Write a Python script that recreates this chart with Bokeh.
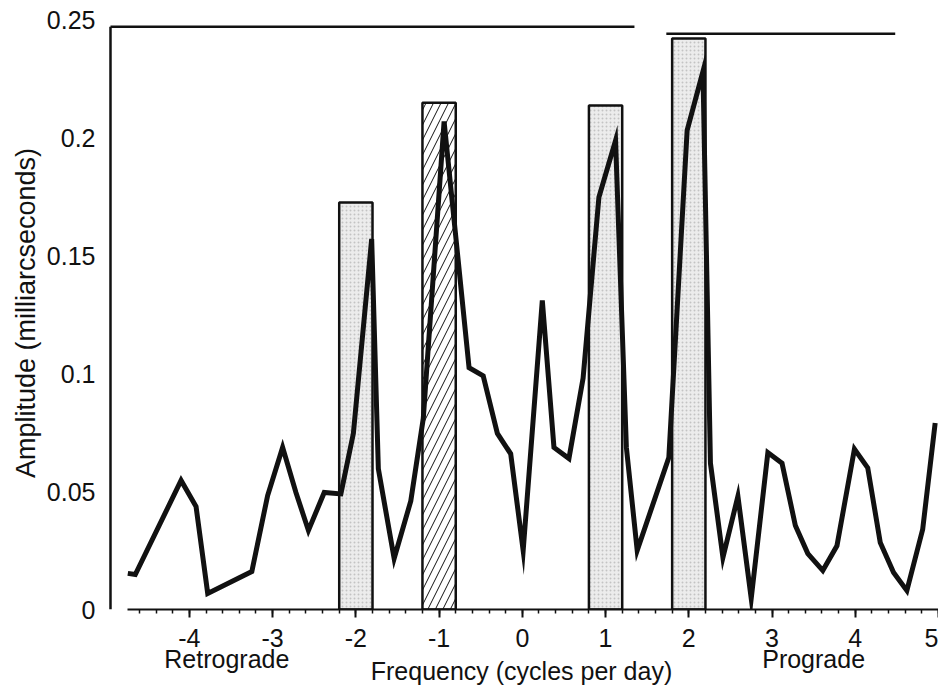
from bokeh.plotting import figure
from bokeh.models import Range1d, FixedTicker, SingleIntervalTicker, LinearAxis
from bokeh.embed import file_html
from bokeh.resources import INLINE

# ---- data ----
freq = [-4.74, -4.65, -4.10, -3.92, -3.78, -3.25, -3.06, -2.88, -2.72, -2.57,
        -2.38, -2.18, -2.03, -1.81, -1.73, -1.54, -1.34, -1.19, -0.94, -0.64,
        -0.47, -0.30, -0.14, 0.01, 0.24, 0.38, 0.56, 0.73, 0.92, 1.12,
        1.25, 1.38, 1.76, 1.98, 2.17, 2.26, 2.41, 2.59, 2.75, 2.95,
        3.12, 3.28, 3.43, 3.61, 3.78, 3.99, 4.15, 4.30, 4.46, 4.62,
        4.81, 4.96]
amp = [0.0153, 0.0148, 0.0547, 0.0436, 0.0068, 0.0161, 0.0483, 0.0687, 0.0496, 0.0335,
       0.0496, 0.0490, 0.0746, 0.1570, 0.0597, 0.0216, 0.0460, 0.0810, 0.2068, 0.1025,
       0.0990, 0.0746, 0.0660, 0.0250, 0.1310, 0.0687, 0.0640, 0.0980, 0.1747, 0.1987,
       0.0687, 0.0250, 0.0644, 0.2030, 0.2280, 0.0620, 0.0220, 0.0480, 0.0047, 0.0665,
       0.0620, 0.0356, 0.0237, 0.0165, 0.0270, 0.0680, 0.0600, 0.0284, 0.0157, 0.0080,
       0.0340, 0.0790]

band_left = [-2.2, 0.8, 1.8]
band_right = [-1.8, 1.2, 2.2]
band_top = [0.1725, 0.2136, 0.2420]

hatch_left = [-1.2]
hatch_right = [-0.8]
hatch_top = [0.2148]

x_ticks = [-4, -3, -2, -1, 0, 1, 2, 3, 4, 5]
x_tick_labels = ["-4", "-3", "-2", "-1", "0", "1", "2", "3", "4", "5"]

y_ticks = [0, 0.05, 0.1, 0.15, 0.2, 0.25]
y_tick_labels = ["0", "0.05", "0.1", "0.15", "0.2", "0.25"]

side_labels = ["Retrograde", "Prograde"]
side_label_x = [-3.55, 3.5]

FONT = "Liberation Sans"
INK = "#111111"

p = figure(width=938, height=699, output_backend="svg", toolbar_location=None,
           x_range=Range1d(-5.02, 5.0), y_range=Range1d(0, 0.2513),
           x_axis_location=None, y_axis_location=None,
           min_border_left=104, min_border_right=0, min_border_top=16,
           min_border_bottom=90)
p.grid.visible = False
p.outline_line_color = None
p.background_fill_color = "white"
p.border_fill_color = "white"

# x axis with numeric ticks
xa = LinearAxis(ticker=SingleIntervalTicker(interval=1, num_minor_ticks=5),
                bounds=(-4.74, 5.0))
xa.major_label_overrides = {t: s for t, s in zip(x_ticks, x_tick_labels)}
xa.axis_line_color = INK
xa.axis_line_width = 2
xa.major_tick_line_color = INK
xa.major_tick_line_width = 2
xa.major_tick_out = 8
xa.major_tick_in = 0
xa.minor_tick_line_color = INK
xa.minor_tick_line_width = 1.5
xa.minor_tick_out = 4
xa.minor_tick_in = 0
xa.major_label_text_font = FONT
xa.major_label_text_font_size = "25px"
xa.major_label_text_color = INK
xa.major_label_standoff = 11
p.add_layout(xa, "below")

# second row: direction words and the axis title
xb = LinearAxis(ticker=FixedTicker(ticks=side_label_x),
                axis_label="Frequency (cycles per day)")
xb.major_label_overrides = {t: s for t, s in zip(side_label_x, side_labels)}
xb.axis_line_color = None
xb.major_tick_line_color = None
xb.minor_tick_line_color = None
xb.major_tick_out = 0
xb.major_tick_in = 0
xb.major_label_text_font = FONT
xb.major_label_text_font_size = "25px"
xb.major_label_text_color = INK
xb.major_label_standoff = -5
xb.axis_label_text_font = FONT
xb.axis_label_text_font_size = "25px"
xb.axis_label_text_font_style = "normal"
xb.axis_label_text_color = INK
xb.axis_label_standoff = -19
p.add_layout(xb, "below")

ya = LinearAxis(ticker=FixedTicker(ticks=y_ticks),
                axis_label="Amplitude (milliarcseconds)")
ya.major_label_overrides = {t: s for t, s in zip(y_ticks, y_tick_labels)}
ya.axis_line_color = None
ya.major_tick_line_color = None
ya.minor_tick_line_color = None
ya.major_tick_out = 0
ya.major_tick_in = 0
ya.major_label_text_font = FONT
ya.major_label_text_font_size = "25px"
ya.major_label_text_color = INK
ya.major_label_standoff = 9
ya.axis_label_text_font = FONT
ya.axis_label_text_font_size = "27px"
ya.axis_label_text_font_style = "normal"
ya.axis_label_text_color = INK
ya.axis_label_standoff = 3
p.add_layout(ya, "left")

# frame rules (vertical axis line and the top rules)
p.segment(x0=[-4.948, -4.948, 1.73], y0=[0, 0.247, 0.244],
          x1=[-4.948, 1.347, 4.48], y1=[0.247, 0.247, 0.244],
          line_color=INK, line_width=2.5)

# shaded frequency bands
p.quad(left=band_left, right=band_right, bottom=0, top=band_top,
       fill_color="#ececec", hatch_pattern="dot", hatch_color="#9a9a9a",
       hatch_scale=4, hatch_alpha=0.5, line_color=INK, line_width=2.5)
# hatched band
p.quad(left=hatch_left, right=hatch_right, bottom=0, top=hatch_top,
       fill_color="white", hatch_pattern="/", hatch_color=INK,
       hatch_scale=15, hatch_weight=1, line_color=INK, line_width=2.5)

# amplitude spectrum
p.line(freq, amp, line_color=INK, line_width=5, line_join="miter")

open("out.html", "w").write(file_html(p, INLINE))
